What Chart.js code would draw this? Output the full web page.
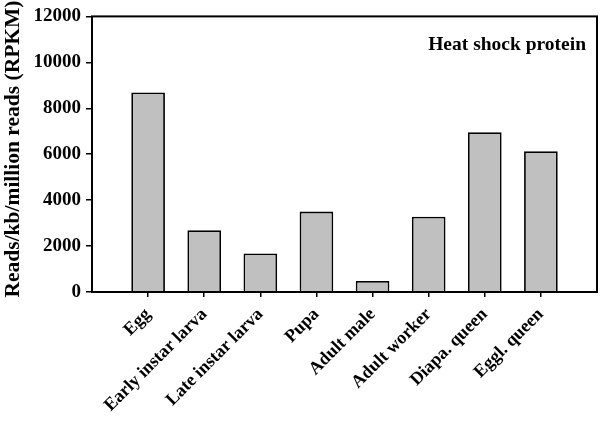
<!DOCTYPE html>
<html>
<head>
<meta charset="utf-8">
<script src="https://cdn.jsdelivr.net/npm/chart.js@4/dist/chart.umd.min.js"></script>
<style>
  html, body { margin: 0; padding: 0; background: #fff; }
  #wrap { width: 600px; height: 427px; position: relative; }
</style>
</head>
<body>
<div id="wrap"><canvas id="c" width="600" height="427"></canvas></div>
<script>
const categories = ["Egg", "Early instar larva", "Late instar larva", "Pupa", "Adult male", "Adult worker", "Diapa. queen", "Eggl. queen"];
const rpkmValues = [8690, 2690, 1680, 3500, 480, 3280, 6960, 6130];
const yTicks = [0, 2000, 4000, 6000, 8000, 10000, 12000];
const chartTitle = "Heat shock protein";
const yTitle = "Reads/kb/million reads (RPKM)";

const FONT = "'Liberation Serif', 'Times New Roman', serif";

const boxPlugin = {
  id: 'box',
  afterDraw(chart) {
    const { ctx, chartArea: a } = chart;
    ctx.save();
    ctx.strokeStyle = '#000';
    ctx.lineWidth = 2;
    ctx.strokeRect(a.left, a.top, a.right - a.left, a.bottom - a.top);
    ctx.fillStyle = '#000';
    ctx.font = 'bold 19.5px ' + FONT;
    ctx.textAlign = 'right';
    ctx.textBaseline = 'alphabetic';
    ctx.fillText(chartTitle, a.right - 11, a.top + 34);
    // y axis title
    ctx.translate(19, 149);
    ctx.rotate(-Math.PI / 2);
    ctx.textAlign = 'center';
    ctx.font = 'bold 21.5px ' + FONT;
    ctx.fillText(yTitle, 0, 0);
    ctx.restore();
  }
};

new Chart(document.getElementById('c'), {
  type: 'bar',
  data: {
    datasets: [{
      data: rpkmValues.map((v, i) => ({ x: i + 1, y: v })),
      backgroundColor: '#c0c0c0',
      borderColor: '#000',
      borderWidth: 1.8,
      barPercentage: 0.6,
      categoryPercentage: 1.0
    }]
  },
  options: {
    responsive: false,
    animation: false,
    devicePixelRatio: 1,
    layout: { padding: { top: 16, right: 3, left: 0, bottom: 0 } },
    plugins: { legend: { display: false }, tooltip: { enabled: false }, title: { display: false } },
    scales: {
      x: {
        type: 'linear',
        min: 0,
        max: 9,
        offset: false,
        afterBuildTicks(scale) { scale.ticks = categories.map((_, i) => ({ value: i + 1 })); },
        afterFit(scale) { scale.height = 135; },
        border: { display: false },
        grid: { display: true, offset: false, drawOnChartArea: false, drawTicks: true, tickLength: 5, color: '#000', lineWidth: 1.5 },
        ticks: {
          autoSkip: false,
          maxRotation: 45,
          minRotation: 45,
          padding: 7,
          color: '#000',
          font: { family: FONT, size: 18, weight: 'bold' },
          callback: (v) => categories[v - 1] || ''
        }
      },
      y: {
        min: 0,
        max: 12000,
        afterBuildTicks(scale) { scale.ticks = yTicks.map(v => ({ value: v })); },
        afterFit(scale) { scale.width = 92; },
        border: { display: false },
        grid: { display: true, offset: false, drawOnChartArea: false, drawTicks: true, tickLength: 6, color: '#000', lineWidth: 1.5 },
        ticks: {
          padding: 5,
          color: '#000',
          font: { family: FONT, size: 19, weight: 'bold' },
          callback: (v) => String(v)
        },
        title: { display: false }
      }
    }
  },
  plugins: [boxPlugin]
});
</script>
</body>
</html>
